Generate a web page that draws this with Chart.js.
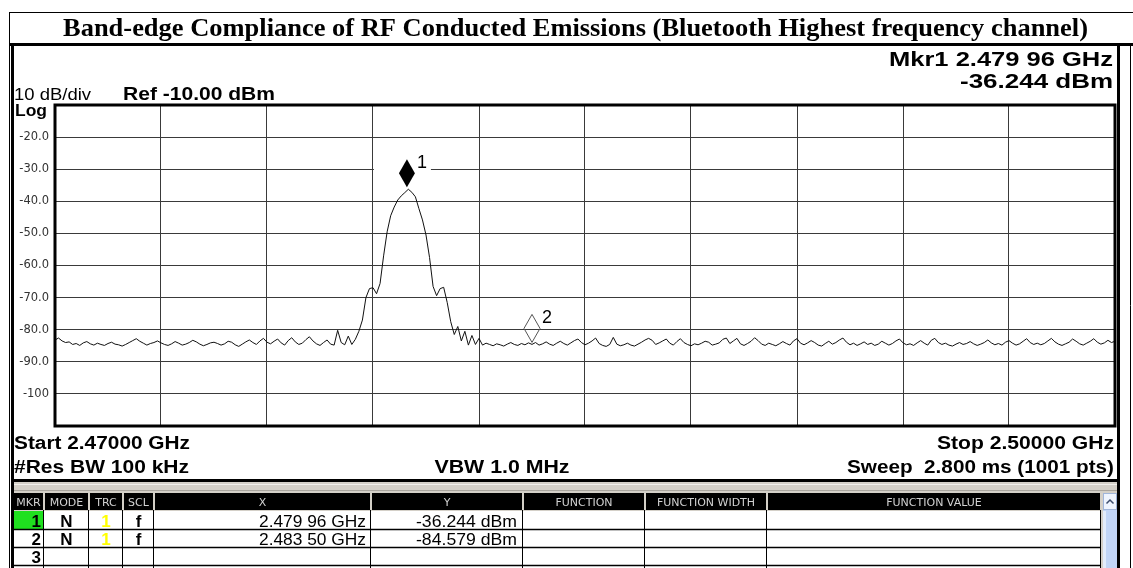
<!DOCTYPE html>
<html>
<head>
<meta charset="utf-8">
<script src="https://cdn.jsdelivr.net/npm/chart.js@4.4.1/dist/chart.umd.min.js"></script>
<style>
  html, body { margin: 0; padding: 0; background: #fff; }
  #wrap { position: relative; width: 1133px; height: 568px; }
</style>
</head>
<body>
<div id="wrap"><canvas id="chart" width="1133" height="568"></canvas></div>
<script>
// sweep settings (instrument)
const startGHz = 2.47;
const stopGHz = 2.50;
const gridFreqsGHz = [2.470, 2.473, 2.476, 2.479, 2.482, 2.485, 2.488, 2.491, 2.494, 2.497, 2.500];
const levelTicks = [-10, -20, -30, -40, -50, -60, -70, -80, -90, -100, -110];
const levelLabels = ['', '-20.0', '-30.0', '-40.0', '-50.0', '-60.0', '-70.0', '-80.0', '-90.0', '-100', ''];

// trace, dBm, 301 sweep points (0.1 MHz apart)
const traceDbm = [
  -83.2, -82.6, -83.5, -84.0, -83.8, -84.6, -84.3, -84.9, -84.1, -83.7,
  -84.4, -84.8, -84.2, -84.6, -84.9, -84.3, -83.9, -84.5, -84.7, -85.1,
  -84.6, -84.0, -83.4, -82.8, -83.6, -84.2, -84.8, -84.3, -84.0, -83.5,
  -84.1, -84.6, -84.9, -84.4, -83.7, -84.2, -84.8, -84.5, -84.0, -83.3,
  -83.8, -84.5, -85.0, -84.6, -84.1, -83.9, -84.3, -84.8, -84.4, -83.6,
  -83.9, -84.7, -85.2, -84.5, -83.8, -83.2, -84.0, -84.6, -83.5, -82.7,
  -83.9, -84.4, -83.6, -82.9, -84.1, -84.8, -83.4, -82.5, -83.8, -84.6,
  -84.2, -83.1, -82.2, -83.5, -84.4, -84.9, -84.0, -83.2, -84.5, -84.8,
  -80.2, -84.0, -84.7, -82.0, -84.6, -83.0, -80.5, -77.0, -70.0, -67.2,
  -66.9, -68.8, -65.6, -57.0, -49.5, -44.5, -41.8, -39.6, -38.3, -37.3,
  -36.244, -37.2, -38.6, -42.3, -45.8, -50.5, -57.5, -66.5, -69.4, -67.2,
  -66.8, -71.5, -77.5, -81.5, -79.0, -83.5, -80.5, -84.8, -81.8, -84.6,
  -82.7,
  -84.8, -84.2, -84.6, -85.0, -84.4, -84.7, -85.1, -84.5, -84.0, -84.6,
  -84.9, -84.3, -84.7, -84.1, -84.58, -84.0, -84.8, -84.4, -83.8, -84.5,
  -84.9, -84.2, -83.6, -84.3, -84.8, -84.1, -83.4, -82.9, -84.0, -84.7,
  -84.2, -83.5, -82.6, -84.3, -84.9, -85.2, -84.6, -82.4, -84.5, -85.0,
  -84.7, -84.2, -84.8, -85.1, -84.5, -83.9, -83.2, -82.7, -83.3, -84.6,
  -84.1, -83.5, -82.9, -84.2, -84.8, -83.7, -82.8, -84.0, -84.6, -85.0,
  -84.4, -84.7, -84.2, -83.6, -83.9, -84.8, -84.5, -84.1, -83.0, -82.6,
  -84.3, -83.5, -82.7, -84.4, -84.9, -84.3, -83.6, -82.5, -83.4, -84.5,
  -84.9, -84.2, -84.6, -85.0, -84.4, -83.7, -84.3, -84.8, -83.5, -82.8,
  -84.2, -84.7, -84.1, -83.4, -84.0, -84.8, -85.1, -84.3, -83.6, -84.5,
  -84.0, -83.2, -82.6, -83.9, -84.7, -84.2, -84.9, -84.4, -83.8, -84.6,
  -84.2, -84.9, -84.5, -83.6, -84.2, -84.8, -84.3, -83.5, -82.9, -84.1,
  -84.7, -84.4, -84.9, -84.1, -83.4, -84.2, -84.8, -83.3, -82.7, -84.0,
  -84.6, -84.2, -84.8, -85.1, -84.5, -84.0, -84.6, -84.3, -83.7, -84.4,
  -84.9, -84.5, -84.0, -83.2, -84.1, -84.7, -84.3, -84.8, -83.9, -83.4,
  -84.2, -84.8, -84.4, -83.6, -82.8, -84.0, -84.6, -84.2, -84.7, -84.3,
  -83.5, -82.7, -83.8, -84.5, -84.9, -84.4, -83.9, -82.9, -83.6, -84.4,
  -84.8, -84.2, -83.6, -82.8, -83.9, -84.5, -84.1, -83.3, -84.0, -83.6
];

// markers
const markerNums = ['1', '2'];
const markerFreqGHz = [2.47996, 2.48350];
const markerDbm = [-36.244, -84.579];
const markerFilled = [true, false];
const markerXText = ['2.479 96 GHz', '2.483 50 GHz'];
const markerYText = ['-36.244 dBm', '-84.579 dBm'];

// texts
const titleText = 'Band-edge Compliance of RF Conducted Emissions (Bluetooth Highest frequency channel)';
const tableHeads = ['MKR', 'MODE', 'TRC', 'SCL', 'X', 'Y', 'FUNCTION', 'FUNCTION WIDTH', 'FUNCTION VALUE'];
const tableModes = ['N', 'N'];
const tableTraces = ['1', '1'];
const tableScales = ['f', 'f'];
const tableRowCount = 3;

const tracePoints = traceDbm.map((v, i) => ({
    x: startGHz + i * (stopGHz - startGHz) / (traceDbm.length - 1),
    y: v
}));

function fitText(ctx, text, x, y, font, align, width, color) {
    ctx.save();
    ctx.font = font;
    ctx.fillStyle = color || '#000';
    ctx.textBaseline = 'alphabetic';
    ctx.textAlign = align;
    let sx = 1;
    if (width) {
        sx = width / ctx.measureText(text).width;
    }
    ctx.translate(x, y);
    ctx.scale(sx, 1);
    ctx.fillText(text, 0, 0);
    ctx.restore();
}

function line(ctx, x1, y1, x2, y2, color, w) {
    ctx.strokeStyle = color;
    ctx.lineWidth = w;
    ctx.beginPath();
    ctx.moveTo(x1, y1);
    ctx.lineTo(x2, y2);
    ctx.stroke();
}

const tableCols = [[14, 44], [45, 89], [90, 123], [124, 154], [155, 371], [372, 523], [524, 645], [646, 767], [768, 1101]];
const screenFont = '"Liberation Sans", Arial, sans-serif';

const framePlugin = {
    id: 'frame',
    beforeDraw(chart) {
        const ctx = chart.ctx;
        ctx.save();
        ctx.fillStyle = '#fff';
        ctx.fillRect(0, 0, chart.width, chart.height);

        // title cell
        line(ctx, 9, 12.5, 1133, 12.5, '#000', 1);
        line(ctx, 9.5, 12, 9.5, 568, '#000', 1);
        fitText(ctx, titleText, 575.5, 36, 'bold 26px "Liberation Serif"', 'center', 1025);

        // screenshot frame
        ctx.fillStyle = '#000';
        ctx.fillRect(9, 43, 1124, 3);
        ctx.fillRect(11, 43, 3, 525);
        ctx.fillRect(1117, 43, 3, 525);
        line(ctx, 1130.5, 43, 1130.5, 568, '#000', 1);

        // upper readouts
        fitText(ctx, 'Mkr' + markerNums[0] + ' ' + markerXText[0], 1113, 66, 'bold 20px ' + screenFont, 'right', 224);
        fitText(ctx, markerYText[0], 1113, 88, 'bold 20px ' + screenFont, 'right', 153);
        fitText(ctx, '10 dB/div', 14, 100, '16px ' + screenFont, 'left', 77);
        fitText(ctx, 'Log', 15, 116, 'bold 16px ' + screenFont, 'left', 32);
        fitText(ctx, 'Ref -10.00 dBm', 123, 100, 'bold 18px ' + screenFont, 'left', 152);

        // lower readouts
        const f18 = 'bold 18px ' + screenFont;
        fitText(ctx, 'Start 2.47000 GHz', 14, 449, f18, 'left', 176);
        fitText(ctx, '#Res BW 100 kHz', 14, 473, f18, 'left', 175);
        fitText(ctx, 'VBW 1.0 MHz', 502, 473, f18, 'center', 135);
        fitText(ctx, 'Stop 2.50000 GHz', 1114, 449, f18, 'right', 177);
        fitText(ctx, 'Sweep  2.800 ms (1001 pts)', 1114, 473, f18, 'right', 267);

        // marker table
        ctx.fillStyle = '#000';
        ctx.fillRect(14, 479, 1103, 3);
        ctx.fillStyle = '#d4d0c8';
        ctx.fillRect(14, 482, 1103, 86);
        ctx.fillStyle = '#f2f0ec';
        ctx.fillRect(14, 484, 1103, 1);
        ctx.fillStyle = '#a9a59e';
        ctx.fillRect(14, 490, 1103, 1);

        tableCols.forEach((c, i) => {
            ctx.fillStyle = '#000';
            ctx.fillRect(c[0], 493, c[1] - c[0] - 1, 17);
            fitText(ctx, tableHeads[i], (c[0] + c[1] - 1) / 2, 506, '11px "DejaVu Sans"', 'center', null, '#d2d2d2');
        });

        ctx.fillStyle = '#fff';
        ctx.fillRect(14, 511, 1087, 57);
        ctx.fillStyle = '#1fe01f';
        ctx.fillRect(14, 511, 30, 18);
        for (let r = 0; r < tableRowCount; r++) {
            line(ctx, 14, 529.5 + r * 18, 1101, 529.5 + r * 18, '#000', 1.5);
        }
        tableCols.forEach(c => {
            line(ctx, c[1] - 0.5, 510, c[1] - 0.5, 568, '#000', 1);
        });

        for (let r = 0; r < tableRowCount; r++) {
            const by = 527 + r * 18;
            fitText(ctx, String(r + 1), 41, by, 'bold 17px ' + screenFont, 'right');
            if (r < markerNums.length) {
                fitText(ctx, tableModes[r], 66.5, by, 'bold 17px ' + screenFont, 'center');
                fitText(ctx, tableTraces[r], 106, by, 'bold 17px ' + screenFont, 'center', null, '#ffff00');
                fitText(ctx, tableScales[r], 138.5, by, 'bold 17px ' + screenFont, 'center');
                fitText(ctx, markerXText[r], 366, by, '17px ' + screenFont, 'right', 107);
                fitText(ctx, markerYText[r], 517, by, '17px ' + screenFont, 'right', 101);
            }
        }

        // scrollbar
        ctx.fillStyle = '#c1d5f6';
        ctx.fillRect(1103, 493, 14, 75);
        ctx.fillStyle = '#e2ecfb';
        ctx.fillRect(1103, 511, 3, 57);
        ctx.fillStyle = '#eef4fe';
        ctx.fillRect(1103, 493, 14, 17);
        ctx.strokeStyle = '#9fb5da';
        ctx.lineWidth = 1;
        ctx.strokeRect(1103.5, 493.5, 13, 16);
        ctx.strokeStyle = '#3c4c6c';
        ctx.lineWidth = 1.5;
        ctx.beginPath();
        ctx.moveTo(1106.5, 503.5);
        ctx.lineTo(1110, 500);
        ctx.lineTo(1113.5, 503.5);
        ctx.stroke();
        ctx.restore();
    },
    afterDatasetsDraw(chart) {
        const ctx = chart.ctx;
        const a = chart.chartArea;
        const xs = chart.scales.x;
        const ys = chart.scales.y;
        ctx.save();
        ctx.strokeStyle = '#000';
        ctx.lineWidth = 3;
        ctx.strokeRect(a.left, a.top, a.right - a.left, a.bottom - a.top);

        markerFreqGHz.forEach((f, i) => {
            const px = xs.getPixelForValue(f);
            const py = ys.getPixelForValue(markerDbm[i]);
            if (markerFilled[i]) {
                ctx.fillStyle = '#fff';
                ctx.fillRect(px - 33, py - 38, 57, 34);
            }
            ctx.beginPath();
            ctx.moveTo(px, py - 2);
            ctx.lineTo(px - 8, py - 16);
            ctx.lineTo(px, py - 30);
            ctx.lineTo(px + 8, py - 16);
            ctx.closePath();
            if (markerFilled[i]) {
                ctx.fillStyle = '#000';
                ctx.fill();
            } else {
                ctx.strokeStyle = '#555';
                ctx.lineWidth = 1;
                ctx.stroke();
            }
            fitText(ctx, markerNums[i], px + 10, py - 21, '18px ' + screenFont, 'left');
        });
        ctx.restore();
    }
};

new Chart(document.getElementById('chart').getContext('2d'), {
    type: 'line',
    data: {
        datasets: [{
            data: tracePoints,
            borderColor: '#111',
            borderWidth: 1,
            pointRadius: 0,
            tension: 0
        }]
    },
    options: {
        responsive: false,
        animation: false,
        devicePixelRatio: 1,
        layout: { padding: { left: 15, top: 105, right: 18, bottom: 142 } },
        plugins: {
            legend: { display: false },
            tooltip: { enabled: false },
            title: { display: false }
        },
        scales: {
            x: {
                type: 'linear',
                min: startGHz,
                max: stopGHz,
                afterBuildTicks: s => { s.ticks = gridFreqsGHz.map(v => ({ value: v })); },
                afterFit: s => { s.height = 0; },
                ticks: { display: false },
                grid: { color: '#3a3a3a', lineWidth: 1, drawTicks: false },
                border: { display: false }
            },
            y: {
                type: 'linear',
                min: -110,
                max: -10,
                afterBuildTicks: s => { s.ticks = levelTicks.map(v => ({ value: v })); },
                afterFit: s => { s.width = 40; },
                ticks: {
                    autoSkip: false,
                    padding: 6,
                    color: '#333',
                    font: { family: 'DejaVu Sans', size: 11.5 },
                    callback: v => {
                        const k = levelTicks.indexOf(v);
                        return k >= 0 ? levelLabels[k] : '';
                    }
                },
                grid: { color: '#3a3a3a', lineWidth: 1, drawTicks: false },
                border: { display: false }
            }
        }
    },
    plugins: [framePlugin]
});
</script>
</body>
</html>
